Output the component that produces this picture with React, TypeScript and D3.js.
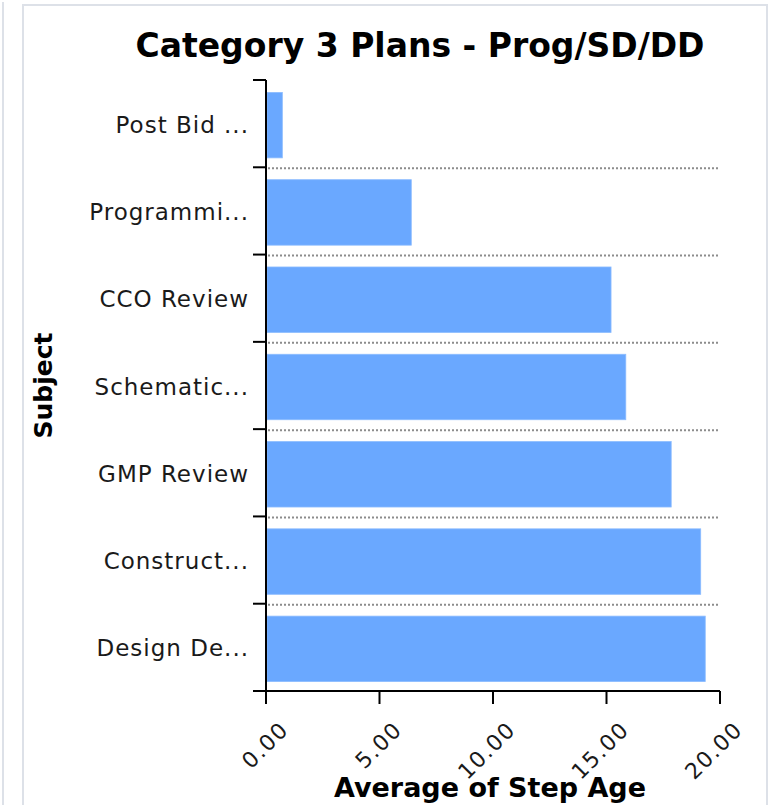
import { useRef, useEffect } from "react";
import * as d3 from "d3";

const categories = [
  "Post Bid ...",
  "Programmi...",
  "CCO Review",
  "Schematic...",
  "GMP Review",
  "Construct...",
  "Design De...",
];
const avgStepAge = [0.72, 6.4, 15.2, 15.85, 17.85, 19.15, 19.35];
const xTicks = [0, 5, 10, 15, 20];

const chartTitle = "Category 3 Plans - Prog/SD/DD";
const xTitle = "Average of Step Age";
const yTitle = "Subject";

export default function App() {
  const ref = useRef<SVGSVGElement | null>(null);

  useEffect(() => {
    if (!ref.current) return;

    const W = 774;
    const H = 805;
    const margin = { top: 80, left: 266, right: 54, bottom: 114 };
    const plotBottom = H - margin.bottom; // 691
    const plotRight = W - margin.right; // 720

    const root = d3.select(ref.current);
    root.selectAll("*").remove();
    root.attr("width", W).attr("height", H);

    // panel frame
    root
      .append("line")
      .attr("x1", 3).attr("x2", 3).attr("y1", 2).attr("y2", H)
      .attr("stroke", "#dde1e8").attr("stroke-width", 2);
    root
      .append("path")
      .attr("d", `M23,${H}V5H767V${H}`)
      .attr("fill", "none")
      .attr("stroke", "#dde1e8")
      .attr("stroke-width", 2);

    const x = d3.scaleLinear().domain([0, 20]).range([margin.left, plotRight]);
    const y = d3
      .scaleBand<string>()
      .domain(categories)
      .range([margin.top, plotBottom])
      .paddingInner(0.25)
      .paddingOuter(0.125);
    const edge = d3
      .scaleLinear()
      .domain([0, categories.length])
      .range([margin.top, plotBottom]);

    const font = "'DejaVu Sans', Verdana, sans-serif";

    // title
    root
      .append("text")
      .attr("x", 420)
      .attr("y", 57)
      .attr("text-anchor", "middle")
      .attr("font-family", font)
      .attr("font-weight", "bold")
      .attr("font-size", 33)
      .attr("fill", "#000")
      .text(chartTitle);

    // dotted gridlines between categories
    root
      .append("g")
      .selectAll("line")
      .data(d3.range(1, categories.length))
      .join("line")
      .attr("x1", margin.left + 2)
      .attr("x2", x(20) - 2)
      .attr("y1", (d) => edge(d) + 1)
      .attr("y2", (d) => edge(d) + 1)
      .attr("stroke", "#8c8c8c")
      .attr("stroke-width", 2)
      .attr("stroke-dasharray", "2,2");

    // bars
    root
      .append("g")
      .selectAll("rect")
      .data(categories)
      .join("rect")
      .attr("x", x(0) + 1)
      .attr("y", (d) => (y(d) as number) + 1.5)
      .attr("width", (d, i) => x(avgStepAge[i]) - x(0) - 1)
      .attr("height", y.bandwidth())
      .attr("fill", "#6aa8ff")
      .attr("stroke", "#8cbcff")
      .attr("stroke-width", 0.8);

    // axes
    const axis = root.append("g").attr("stroke", "#000").attr("stroke-width", 2);
    axis
      .append("line")
      .attr("x1", margin.left).attr("x2", margin.left)
      .attr("y1", margin.top).attr("y2", plotBottom + 13);
    axis
      .append("line")
      .attr("x1", margin.left - 13).attr("x2", plotRight)
      .attr("y1", plotBottom).attr("y2", plotBottom);
    axis
      .selectAll("line.ytick")
      .data(d3.range(0, categories.length))
      .join("line")
      .attr("class", "ytick")
      .attr("x1", margin.left - 13)
      .attr("x2", margin.left)
      .attr("y1", (d) => edge(d))
      .attr("y2", (d) => edge(d));
    axis
      .selectAll("line.xtick")
      .data(xTicks)
      .join("line")
      .attr("class", "xtick")
      .attr("x1", (d) => x(d))
      .attr("x2", (d) => x(d))
      .attr("y1", plotBottom)
      .attr("y2", plotBottom + 13);

    // category labels
    root
      .append("g")
      .selectAll("text")
      .data(categories)
      .join("text")
      .attr("x", 249)
      .attr("y", (d) => (y(d) as number) + y.bandwidth() / 2 + 9)
      .attr("text-anchor", "end")
      .attr("font-family", font)
      .attr("font-size", 23)
      .attr("letter-spacing", 1)
      .attr("fill", "#1a1a1a")
      .text((d) => d);

    // x tick labels, rotated
    root
      .append("g")
      .selectAll("text")
      .data(xTicks)
      .join("text")
      .attr("transform", (d) => `translate(${x(d) + 24},${plotBottom + 40}) rotate(-45)`)
      .attr("text-anchor", "end")
      .attr("font-family", font)
      .attr("font-size", 22)
      .attr("letter-spacing", 1.5)
      .attr("fill", "#1a1a1a")
      .text((d) => d3.format(".2f")(d));

    // axis titles
    root
      .append("text")
      .attr("x", (x(0) + x(20)) / 2 - 3)
      .attr("y", 797)
      .attr("text-anchor", "middle")
      .attr("font-family", font)
      .attr("font-weight", "bold")
      .attr("font-size", 27)
      .attr("fill", "#000")
      .text(xTitle);

    root
      .append("text")
      .attr("transform", `translate(52,${(margin.top + plotBottom) / 2}) rotate(-90)`)
      .attr("text-anchor", "middle")
      .attr("font-family", font)
      .attr("font-weight", "bold")
      .attr("font-size", 25)
      .attr("fill", "#000")
      .text(yTitle);
  }, []);

  return (
    <svg
      ref={ref}
      style={{ position: "absolute", left: 0, top: 0, background: "#fff" }}
    />
  );
}
